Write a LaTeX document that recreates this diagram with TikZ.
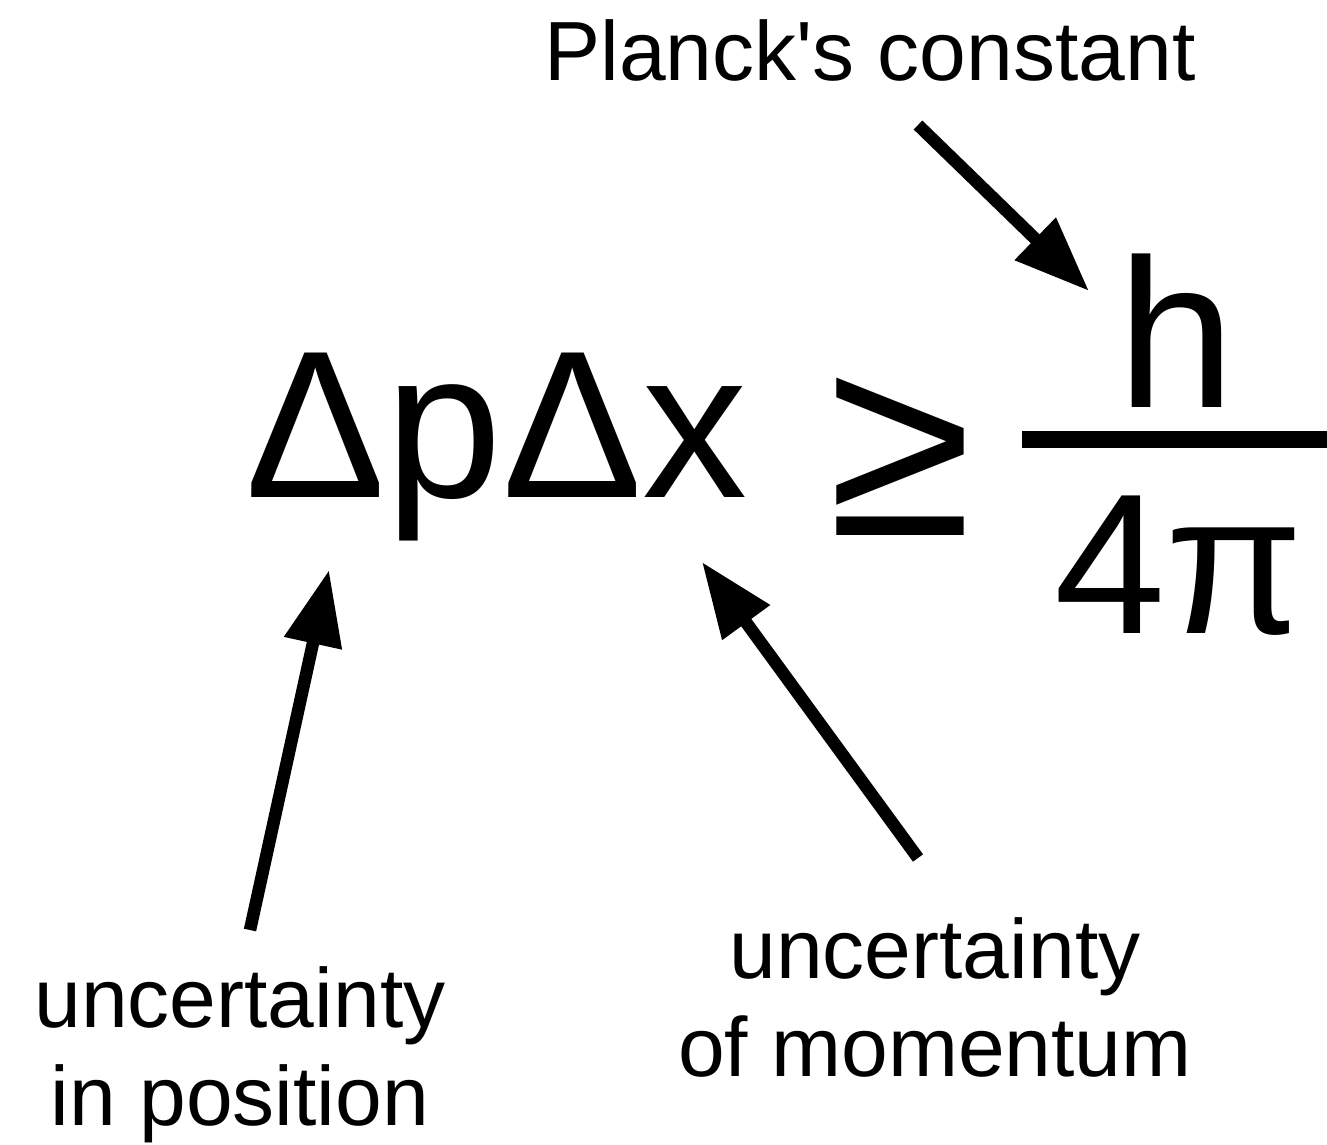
\documentclass[tikz,border=0pt]{standalone}
\usepackage{fontspec}
\setmainfont{Liberation Sans}[Ligatures=TeXOff]
\usetikzlibrary{arrows.meta}
\begin{document}
\begin{tikzpicture}[x=1pt,y=-1pt,
  lbl/.style={font=\fontsize{84}{98}\selectfont, inner sep=0pt, align=center},
  big/.style={inner sep=0pt, anchor=base},
  ptr/.style={line width=12.5pt, -{Triangle[length=75pt,width=56pt]}}]
\useasboundingbox (0,0) rectangle (1327,1144);
% texts
\node[lbl, anchor=base] (planck) at (870,80) {Planck's constant};
\node[big, font=\fontsize{210}{210}\selectfont, anchor=base west] (lhs) at (245,497) {ΔpΔx};
\node[big, font=\fontsize{262}{262}\selectfont] (geq) at (900,535) {≥};
\node[big, font=\fontsize{212}{212}\selectfont] (num) at (1176,407) {h};
\node[big, font=\fontsize{200}{200}\selectfont] (den) at (1179,633) {4π};
\coordinate (barL) at (1022,439);
\coordinate (barR) at (1327,439);
\draw[line width=17pt] (barL) -- (barR);
\node[lbl, anchor=base] (pos) at (240,1125) {uncertainty\\in position};
\node[lbl, anchor=base] (mom) at (935,1076) {uncertainty\\of momentum};
% arrows
\coordinate (t1) at (918,125);
\coordinate (h1) at (1089,291);
\coordinate (t2) at (250,930);
\coordinate (h2) at (329,570);
\coordinate (t3) at (918,858);
\coordinate (h3) at (702,562);
\draw[ptr] (t1) -- (h1);
\draw[ptr] (t2) -- (h2);
\draw[ptr] (t3) -- (h3);
\end{tikzpicture}
\end{document}
